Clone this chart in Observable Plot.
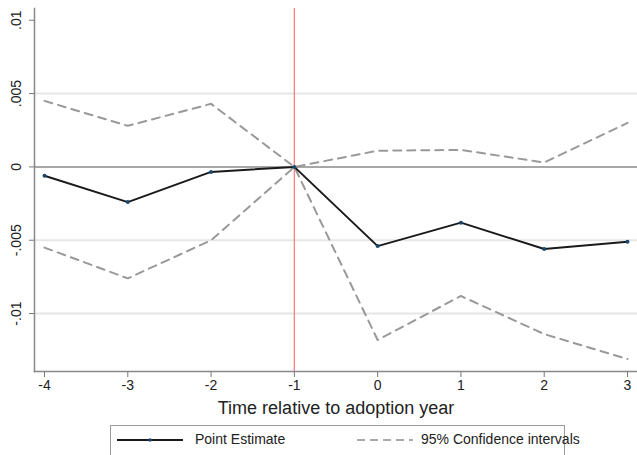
<!DOCTYPE html>
<html>
<head>
<meta charset="utf-8">
<script src="https://cdn.jsdelivr.net/npm/d3@7"></script>
<script src="https://cdn.jsdelivr.net/npm/@observablehq/plot@0.6"></script>
<style>
  body { margin: 0; background: #fff; font-family: "Liberation Sans", Arial, sans-serif; }
  #wrap { position: relative; width: 637px; height: 455px; overflow: hidden; }
  #legend { position: absolute; left: 110px; top: 425px; width: 455px; height: 40px; border: 1px solid #9a9a9a; box-sizing: border-box; background: #fff; }
  .item { position: absolute; top: 5px; font-size: 14px; color: #222; white-space: nowrap; }
</style>
</head>
<body>
<div id="wrap">
  <div id="chart"></div>
  <div id="legend"></div>
</div>
<script>
const periods = [-4, -3, -2, -1, 0, 1, 2, 3];
const pointEstimate = [-0.0006, -0.0024, -0.00034, 0, -0.0054, -0.0038, -0.0056, -0.0051];
const upperCI = [0.0045, 0.0028, 0.0043, 0, 0.0011, 0.00116, 0.0003, 0.003];
const lowerCI = [-0.0055, -0.0076, -0.005, 0, -0.0118, -0.0088, -0.0114, -0.0131];
const yTicks = [0.01, 0.005, 0, -0.005, -0.01];
const yTickLabels = [".01", ".005", "0", "-.005", "-.01"];
const gridValues = [0.005, -0.005, -0.01];
const eventTime = -1;
const xTitle = "Time relative to adoption year";
const legendLabels = ["Point Estimate", "95% Confidence intervals"];

const est = periods.map((t, i) => ({t, v: pointEstimate[i]}));
const up = periods.map((t, i) => ({t, v: upperCI[i]}));
const lo = periods.map((t, i) => ({t, v: lowerCI[i]}));

const chart = Plot.plot({
  width: 637,
  height: 418,
  marginLeft: 34,
  marginRight: 0,
  marginTop: 8,
  marginBottom: 47,
  style: {fontFamily: "Liberation Sans, Arial, sans-serif", fontSize: "13px", color: "#222"},
  x: {domain: [-4.12, 3.12]},
  y: {domain: [-0.01395, 0.0108]},
  marks: [
    Plot.ruleY(gridValues, {stroke: "#e6e6e6", strokeWidth: 2}),
    Plot.ruleY([0], {stroke: "#8a8a8a", strokeWidth: 1.5}),
    Plot.ruleX([eventTime], {stroke: "#ff8080", strokeWidth: 1.3}),
    Plot.line(up, {x: "t", y: "v", stroke: "#999", strokeWidth: 2, strokeDasharray: "8,6"}),
    Plot.line(lo, {x: "t", y: "v", stroke: "#999", strokeWidth: 2, strokeDasharray: "8,6"}),
    Plot.line(est, {x: "t", y: "v", stroke: "#1a1a1a", strokeWidth: 2}),
    Plot.dot(est, {x: "t", y: "v", r: 2, fill: "#1a476f"}),
    Plot.axisX({ticks: periods, tickFormat: d => String(d), tickSize: 6, tickPadding: 3, stroke: "#777",
      label: xTitle, labelAnchor: "center", labelOffset: 42, labelArrow: false, fontSize: 14}),
    Plot.axisY({ticks: yTicks, tickFormat: d => yTickLabels[yTicks.indexOf(d)], tickSize: 5, tickPadding: 9,
      tickRotate: -90, stroke: "#777", label: null, fontSize: 14}),
    Plot.frame({anchor: "left", stroke: "#888", strokeWidth: 1.5}),
    Plot.frame({anchor: "bottom", stroke: "#888", strokeWidth: 1.5})
  ]
});
document.getElementById("chart").appendChild(chart);
chart.querySelectorAll("[aria-label='x-axis label'] text").forEach(t => t.setAttribute("font-size", "18"));

const legend = document.getElementById("legend");
legend.innerHTML = `
  <svg width="455" height="40" style="position:absolute;left:0;top:0">
    <line x1="6" x2="72" y1="14" y2="14" stroke="#1a1a1a" stroke-width="2"/>
    <circle cx="39" cy="14" r="1.8" fill="#1a476f"/>
    <line x1="246" x2="302" y1="14" y2="14" stroke="#aaa" stroke-width="2" stroke-dasharray="8,5"/>
  </svg>
  <div class="item" style="left:84px">${legendLabels[0]}</div>
  <div class="item" style="left:310px">${legendLabels[1]}</div>`;
</script>
</body>
</html>
